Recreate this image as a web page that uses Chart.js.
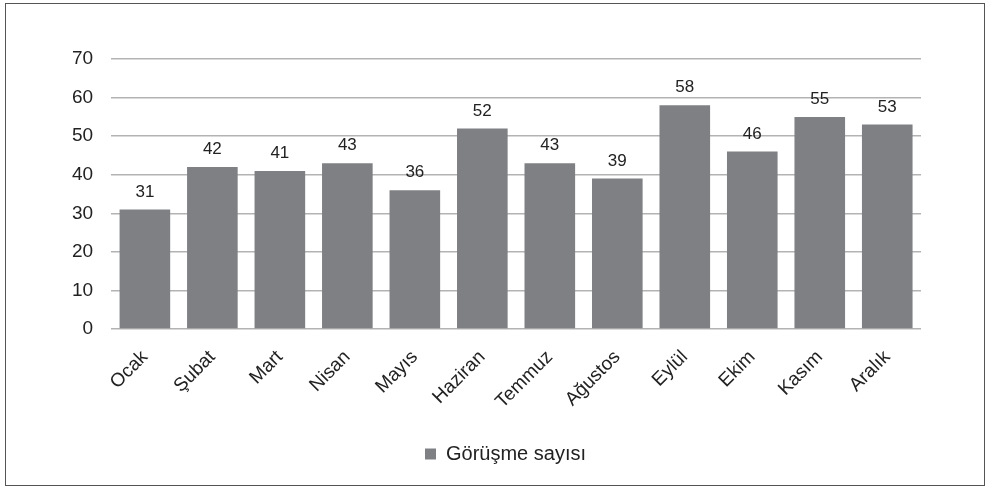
<!DOCTYPE html>
<html>
<head>
<meta charset="utf-8">
<script src="https://cdn.jsdelivr.net/npm/chart.js@4"></script>
<style>
  html, body { margin: 0; padding: 0; background: #fff; }
  #frame {
    position: absolute; left: 5px; top: 3px;
    width: 978px; height: 481px;
    border: 1.5px solid #555;
  }
  canvas { display: block; }
</style>
</head>
<body>
<div id="frame"><canvas id="chart" width="978" height="481"></canvas></div>
<script>
const months = ['Ocak', 'Şubat', 'Mart', 'Nisan', 'Mayıs', 'Haziran', 'Temmuz', 'Ağustos', 'Eylül', 'Ekim', 'Kasım', 'Aralık'];
const meetings = [31, 42, 41, 43, 36, 52, 43, 39, 58, 46, 55, 53];
const yTicks = [0, 10, 20, 30, 40, 50, 60, 70];

const barColor = '#7f8083';
const textColor = '#222';
const font = 'Liberation Sans, Arial, Helvetica, sans-serif';

// draw the value over each bar
const valueLabels = {
  id: 'valueLabels',
  afterDatasetsDraw(chart) {
    const ctx = chart.ctx;
    const meta = chart.getDatasetMeta(0);
    ctx.save();
    ctx.font = '17px ' + font;
    ctx.fillStyle = textColor;
    ctx.textAlign = 'center';
    ctx.textBaseline = 'bottom';
    meta.data.forEach((bar, i) => {
      ctx.fillText(meetings[i], bar.x, bar.y - 9);
    });
    ctx.restore();
  }
};

// legend in the original sits a bit right of centre
const legendShift = {
  id: 'legendShift',
  afterLayout(chart) {
    chart.legend.left += 36;
  }
};

new Chart(document.getElementById('chart'), {
  type: 'bar',
  data: {
    labels: months,
    datasets: [{
      label: 'Görüşme sayısı',
      data: meetings,
      backgroundColor: barColor,
      barPercentage: 0.75,
      categoryPercentage: 1
    }]
  },
  options: {
    responsive: false,
    animation: false,
    layout: { padding: { left: 48, right: 63, top: 55, bottom: 11 } },
    scales: {
      x: {
        grid: { display: false },
        border: { display: false },
        ticks: {
          color: textColor,
          font: { family: font, size: 19 },
          minRotation: 45,
          maxRotation: 45,
          padding: 9
        }
      },
      y: {
        min: 0,
        max: 70,
        afterBuildTicks: axis => { axis.ticks = yTicks.map(v => ({ value: v })); },
        grid: { color: '#b3b3b3', lineWidth: 1.5, drawTicks: false },
        border: { display: false },
        ticks: {
          color: textColor,
          font: { family: font, size: 19 },
          padding: 18
        }
      }
    },
    plugins: {
      tooltip: { enabled: false },
      legend: {
        position: 'bottom',
        labels: {
          color: textColor,
          font: { family: font, size: 20 },
          boxWidth: 11,
          boxHeight: 11,
          padding: 22
        }
      }
    }
  },
  plugins: [valueLabels, legendShift]
});
</script>
</body>
</html>
